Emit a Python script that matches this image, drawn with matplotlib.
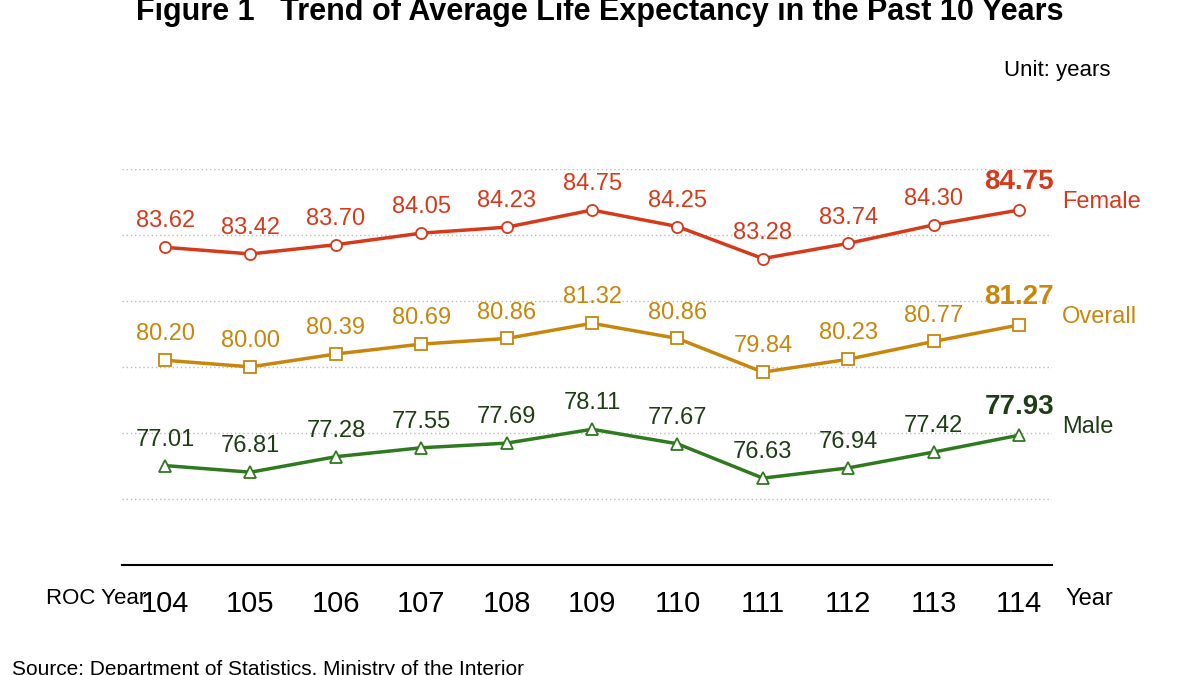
import matplotlib.pyplot as plt

years = ['104', '105', '106', '107', '108', '109', '110', '111', '112', '113', '114']
female = [83.62, 83.42, 83.70, 84.05, 84.23, 84.75, 84.25, 83.28, 83.74, 84.30, 84.75]
overall = [80.20, 80.00, 80.39, 80.69, 80.86, 81.32, 80.86, 79.84, 80.23, 80.77, 81.27]
male = [77.01, 76.81, 77.28, 77.55, 77.69, 78.11, 77.67, 76.63, 76.94, 77.42, 77.93]

plt.rcParams['font.family'] = ['Liberation Sans', 'DejaVu Sans']
fig = plt.figure(figsize=(12, 6.75), dpi=100)
ax = fig.add_axes([0.102, 0.163, 0.775, 0.587])

series = [
    (female, 'Female', '#d63a1a', 'o'),
    (overall, 'Overall', '#c8860c', 's'),
    (male, 'Male', '#2f7a1f', '^'),
]
x = list(range(len(years)))
for vals, name, col, mk in series:
    ax.plot(x, vals, color=col, lw=2.5, marker=mk, ms=8, mfc='white', mec=col, mew=1.3)
    txt_col = col if name != 'Male' else '#1f3d14'
    for i, v in enumerate(vals):
        last = i == len(vals) - 1
        ax.text(i, v + 0.45, f'{v:.2f}', ha='center', va='bottom',
                fontsize=20 if last else 17, color=txt_col,
                fontweight='bold' if last else 'normal')
    ax.text(len(years) - 0.5, vals[-1] + 0.25, name, ha='left', va='center',
            fontsize=17, color=txt_col)

ax.set_xlim(-0.5, 10.39)
ax.set_ylim(74, 86)
for g in [76, 78, 80, 82, 84, 86]:
    ax.axhline(g, color='#bbbbbb', lw=1, ls=(0, (1, 2)), zorder=0)
for s in ['top', 'right', 'left']:
    ax.spines[s].set_visible(False)
ax.spines['bottom'].set_linewidth(1.5)
ax.set_yticks([])
ax.set_xticks(x)
ax.set_xticklabels(years, fontsize=21)
ax.tick_params(axis='x', length=0, pad=18)

fig.text(0.5, 0.982, 'Figure 1   Trend of Average Life Expectancy in the Past 10 Years',
         ha='center', va='center', fontsize=22, fontweight='bold')
fig.text(0.925, 0.895, 'Unit: years', ha='right', va='center', fontsize=16)
fig.text(0.038, 0.113, 'ROC Year', ha='left', va='center', fontsize=16)
fig.text(0.888, 0.113, 'Year', ha='left', va='center', fontsize=17)
fig.text(0.01, 0.008, 'Source: Department of Statistics, Ministry of the Interior',
         ha='left', va='center', fontsize=15)
fig.savefig('out.png', dpi=100)
